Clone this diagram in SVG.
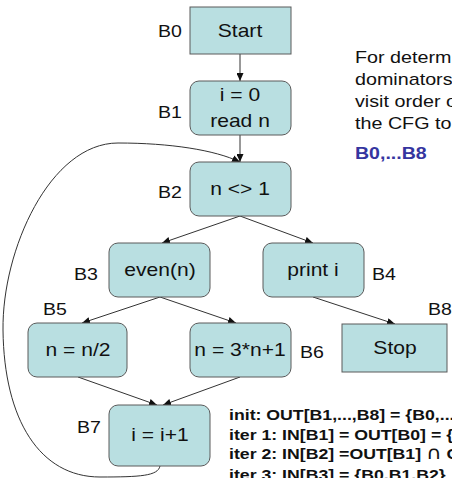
<svg xmlns="http://www.w3.org/2000/svg" width="452" height="478" viewBox="0 0 452 478">
<defs>
<style>
.n{fill:#b9dfe1;stroke:#5a5a5a;stroke-width:1}
.t{font-family:"Liberation Sans",Arial,sans-serif;font-size:17px;fill:#111}
.k{font-family:"Liberation Sans",Arial,sans-serif;font-size:18px;fill:#111;text-anchor:middle}
.b{font-family:"Liberation Sans",Arial,sans-serif;font-size:15px;font-weight:bold;fill:#111}
.e{fill:none;stroke:#333;stroke-width:1}
</style>
<marker id="ah" markerWidth="8" markerHeight="7" refX="8" refY="3.5" orient="auto" markerUnits="userSpaceOnUse"><path d="M0,0 L8,3.5 L0,7 z" fill="#111"/></marker>
</defs>
<rect width="452" height="478" fill="#fff"/>
<g id="edges">
<line class="e" x1="240" y1="54" x2="240" y2="81" marker-end="url(#ah)"/>
<line class="e" x1="240" y1="135" x2="240" y2="162" marker-end="url(#ah)"/>
<line class="e" x1="240" y1="216" x2="162" y2="243" marker-end="url(#ah)"/>
<line class="e" x1="240" y1="216" x2="313" y2="243" marker-end="url(#ah)"/>
<line class="e" x1="160" y1="297" x2="82" y2="323" marker-end="url(#ah)"/>
<line class="e" x1="160" y1="297" x2="236" y2="323" marker-end="url(#ah)"/>
<line class="e" x1="313" y1="297" x2="395" y2="324" marker-end="url(#ah)"/>
<line class="e" x1="78" y1="377" x2="157" y2="405" marker-end="url(#ah)"/>
<line class="e" x1="240" y1="377" x2="163" y2="405" marker-end="url(#ah)"/>
<path class="e" d="M160,466 C158,476 140,477 100,477 C40,477 4,420 3,330 C2,250 50,143 118,143 C170,143 215,150 240,162" marker-end="url(#ah)"/>
</g>
<g id="B0">
<rect class="n" x="190" y="7" width="101" height="47"/>
<text class="k" transform="translate(240,37) scale(1.17,1)">Start</text>
<text class="t" transform="translate(158,37) scale(1.15,1)">B0</text>
</g>
<g id="B1">
<rect class="n" x="190" y="81" width="101" height="54" rx="9"/>
<text class="k" transform="translate(240,101) scale(1.17,1)">i = 0</text>
<text class="k" transform="translate(240,127) scale(1.17,1)">read n</text>
<text class="t" transform="translate(158,118) scale(1.15,1)">B1</text>
</g>
<g id="B2">
<rect class="n" x="190" y="162" width="101" height="54" rx="9"/>
<text class="k" transform="translate(240,195) scale(1.17,1)">n &lt;&gt; 1</text>
<text class="t" transform="translate(158,198) scale(1.15,1)">B2</text>
</g>
<g id="B3">
<rect class="n" x="109" y="243" width="101" height="54" rx="9"/>
<text class="k" transform="translate(160,276) scale(1.17,1)">even(n)</text>
<text class="t" transform="translate(74,280) scale(1.15,1)">B3</text>
</g>
<g id="B4">
<rect class="n" x="263" y="243" width="101" height="54" rx="9"/>
<text class="k" transform="translate(313,276) scale(1.17,1)">print i</text>
<text class="t" transform="translate(372,280) scale(1.15,1)">B4</text>
</g>
<g id="B5">
<rect class="n" x="28" y="323" width="99" height="54" rx="9"/>
<text class="k" transform="translate(78,356) scale(1.17,1)">n = n/2</text>
<text class="t" transform="translate(43,315) scale(1.15,1)">B5</text>
</g>
<g id="B6">
<rect class="n" x="190" y="323" width="101" height="54" rx="9"/>
<text class="k" transform="translate(240,356) scale(1.17,1)">n = 3*n+1</text>
<text class="t" transform="translate(300,358) scale(1.15,1)">B6</text>
</g>
<g id="B8">
<rect class="n" x="342" y="324" width="105" height="48"/>
<text class="k" transform="translate(395,354) scale(1.17,1)">Stop</text>
<text class="t" transform="translate(428,315) scale(1.15,1)">B8</text>
</g>
<g id="B7">
<rect class="n" x="109" y="405" width="101" height="61" rx="9"/>
<text class="k" transform="translate(160,441) scale(1.17,1)">i = i+1</text>
<text class="t" transform="translate(77,433) scale(1.15,1)">B7</text>
</g>
<g id="note">
<text class="t" transform="translate(355,63) scale(1.16,1)">For determ</text>
<text class="t" transform="translate(355,85) scale(1.16,1)">dominators</text>
<text class="t" transform="translate(355,107) scale(1.16,1)">visit order o</text>
<text class="t" transform="translate(355,129) scale(1.16,1)">the CFG to</text>
<text class="t" style="font-weight:bold;fill:#3535a0" transform="translate(355,159) scale(1.15,1)">B0,...B8</text>
</g>
<g id="iter">
<text class="b" transform="translate(229,420) scale(1.18,1)">init: OUT[B1,...,B8] = {B0,...</text>
<text class="b" transform="translate(229,440) scale(1.18,1)">iter 1: IN[B1] = OUT[B0] = {</text>
<text class="b" transform="translate(229,459) scale(1.18,1)">iter 2: IN[B2] =OUT[B1] <tspan style="font-family:'DejaVu Sans',sans-serif;font-weight:normal;font-size:18px">∩</tspan> O</text>
<text class="b" transform="translate(229,480) scale(1.18,1)">iter 3: IN[B3] = {B0,B1,B2}</text>
</g>
</svg>
